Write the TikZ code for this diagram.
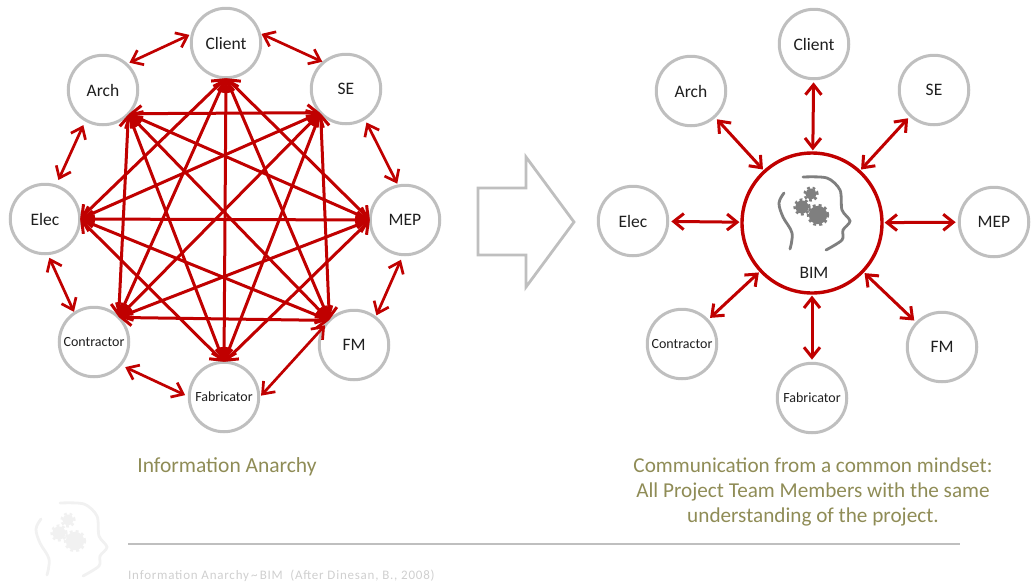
\documentclass[tikz,border=0pt]{standalone}
\usepackage{fontspec}
\setmainfont{Carlito}
\usetikzlibrary{arrows.meta}
\definecolor{redline}{HTML}{C00000}
\definecolor{ringgray}{HTML}{BFBFBF}
\definecolor{olive}{HTML}{8F8C56}
\definecolor{footgray}{HTML}{CFCFCF}
\definecolor{iconfade}{HTML}{F1F1F1}
\definecolor{icongray}{HTML}{7F7F7F}
\definecolor{inktext}{HTML}{1F1F1F}
\pgfdeclarearrow{
  name=RedVee,
  parameters={\the\pgfarrowlength,\the\pgfarrowwidth,\the\pgflinewidth},
  setup code={
    \pgfarrowssettipend{0pt}
    \pgfarrowssetlineend{-1.4\pgflinewidth}
    \pgfarrowssetvisualbackend{-\pgfarrowlength}
    \pgfarrowssetbackend{-\pgfarrowlength}
    \pgfarrowshullpoint{0pt}{0pt}
    \pgfarrowshullpoint{-\pgfarrowlength}{.5\pgfarrowwidth}
    \pgfarrowshullpoint{-\pgfarrowlength}{-.5\pgfarrowwidth}
    \pgfarrowssavethe\pgfarrowlength
    \pgfarrowssavethe\pgfarrowwidth
  },
  drawing code={
    \pgfsetdash{}{0pt}
    \pgfsetmiterjoin
    \pgfsetbuttcap
    \pgfpathmoveto{\pgfqpoint{-\pgfarrowlength}{.5\pgfarrowwidth}}
    \pgfpathlineto{\pgfqpoint{-1.0\pgflinewidth}{0pt}}
    \pgfpathlineto{\pgfqpoint{-\pgfarrowlength}{-.5\pgfarrowwidth}}
    \pgfusepathqstroke
  },
  defaults={length=13pt,width=16pt}
}
\newcommand{\fs}[1]{\fontsize{#1}{#1}\selectfont}
\newcommand{\headicon}[1]{%
  \draw[#1,line width=2.8pt,line cap=round] plot[smooth,tension=0.6] coordinates {(784,193) (779,203) (783,217) (792,233) (790,249)};
  \draw[#1,line width=2.8pt,line cap=round] plot[smooth,tension=0.5] coordinates {(803,177) (827,178) (840,190) (842,210) (850,221) (843,230) (842,240) (826,250)};
  \foreach \gx/\gy/\gr/\gd in {811/194/5.6/2.8, 802/207/6.6/2.8, 818/215/9.2/3}{
    \fill[#1] (\gx,\gy) circle[radius=\gr pt];
    \draw[#1,line width=2.4pt,dash pattern=on \gd pt off \gd pt] (\gx,\gy) circle[radius=\gr pt+0.8pt];
  }
}
\tikzset{
  person/.style={circle,draw=ringgray,line width=3pt,fill=white,minimum size=69.5pt,inner sep=0pt,outer sep=0pt,text=inktext,font=\fs{17.5}},
  smallperson/.style={person,font=\fs{14}},
  hubcircle/.style={circle,draw=redline,line width=3.4pt,fill=white,minimum size=140pt,inner sep=0pt,outer sep=0pt},
  biarrow/.style={draw=redline,line width=3pt,{RedVee}-{RedVee}},
  ringarrow/.style={biarrow,line width=2.7pt},
  spoke/.style={biarrow,shorten <=3pt,shorten >=2pt},
  chord/.style={biarrow},
  caption/.style={text=olive,font=\fs{21.5},align=center,inner sep=0pt}
}
\begin{document}
\begin{tikzpicture}[x=1pt,y=-1pt]
\useasboundingbox (0,0) rectangle (1036,582);
% left ring
\node[person] (lclient) at (226,43) {Client};
\node[person] (larch) at (103,90) {Arch};
\node[person] (lse) at (346,89) {SE};
\node[person] (lelec) at (45,219) {Elec};
\node[person] (lmep) at (405,220) {MEP};
\node[smallperson] (lcon) at (94,342) {Contractor};
\node[person] (lfm) at (354,345) {FM};
\node[smallperson] (lfab) at (224,397) {Fabricator};
\coordinate (hclient) at (lclient.south);
\coordinate (harch) at (larch.-43);
\coordinate (hse) at (lse.223);
\coordinate (helec) at (lelec.east);
\coordinate (hmep) at (lmep.west);
\coordinate (hcon) at (lcon.45);
\coordinate (hfm) at (lfm.135);
\coordinate (hfab) at (lfab.north);
\foreach \a/\b in {harch/hse,harch/hmep,harch/hfm,harch/hfab,harch/hcon,
  hclient/hmep,hclient/hfm,hclient/hfab,hclient/hcon,hclient/helec,
  hse/hfm,hse/hfab,hse/hcon,hse/helec,
  hmep/hfab,hmep/hcon,hmep/helec,
  hfm/hcon,hfm/helec,
  hfab/helec}{
  \draw[chord] (\a) -- (\b);
}
\draw[ringarrow,shorten <=3pt,shorten >=3pt] (lclient.164) -- (larch.48);
\draw[ringarrow,shorten <=2pt,shorten >=1pt] (lclient.17) -- (lse.130);
\draw[ringarrow,shorten <=5pt,shorten >=6pt] (larch.240) -- (lelec.72);
\draw[ringarrow,shorten <=4pt,shorten >=1pt] (lelec.274) -- (lcon.124);
\draw[ringarrow,shorten <=5pt,shorten >=4pt] (lcon.-41) -- (lfab.180);
\draw[ringarrow,shorten <=3pt,shorten >=3pt] (lfab.-2) -- (lfm.140);
\draw[ringarrow,shorten <=2pt,shorten >=5pt] (lfm.52) -- (lmep.267);
\draw[ringarrow,shorten <=2pt,shorten >=4pt] (lmep.101) -- (lse.-58);
% big arrow
\draw[ringgray,line width=2.8pt] (478,188) -- (526,188) -- (526,157) -- (574,222) -- (526,287) -- (526,255) -- (478,255) -- cycle;
% right
\node[hubcircle] (bim) at (812,223) {};
\headicon{icongray}
\node[font=\fs{17.5},inner sep=0pt,text=inktext] (bimlabel) at (814,273) {BIM};
\node[person] (rclient) at (814,44) {Client};
\node[person] (rarch) at (691,91) {Arch};
\node[person] (rse) at (934,90) {SE};
\node[person] (relec) at (633,221) {Elec};
\node[person] (rmep) at (994,222) {MEP};
\node[smallperson] (rcon) at (682,344) {Contractor};
\node[person] (rfm) at (942,347) {FM};
\node[smallperson] (rfab) at (812,398) {Fabricator};
\foreach \n in {rclient,rarch,rse,rmep,rcon,rfm,rfab,relec}{
  \draw[spoke] (\n) -- (bim);
}
% captions
\node[caption] (cap1) at (227,466.5) {Information Anarchy};
\node[caption,font=\fs{21.2}] (cap2) at (813,492) {Communication from a common mindset:\\[4pt]All Project Team Members with the same\\[4pt]understanding of the project.};
% footer
\begin{scope}[shift={(-743,326)}]
\headicon{iconfade}
\end{scope}
\coordinate (rulea) at (128,544);
\coordinate (ruleb) at (960,544);
\draw[ringgray,line width=2pt] (rulea) -- (ruleb);
\node[text=footgray,font=\fs{13}\addfontfeature{LetterSpace=6},anchor=west,inner sep=0pt] (foot) at (128,576) {Information Anarchy\,\symbol{126}\,BIM\ \ (After Dinesan, B., 2008)};
\end{tikzpicture}
\end{document}
